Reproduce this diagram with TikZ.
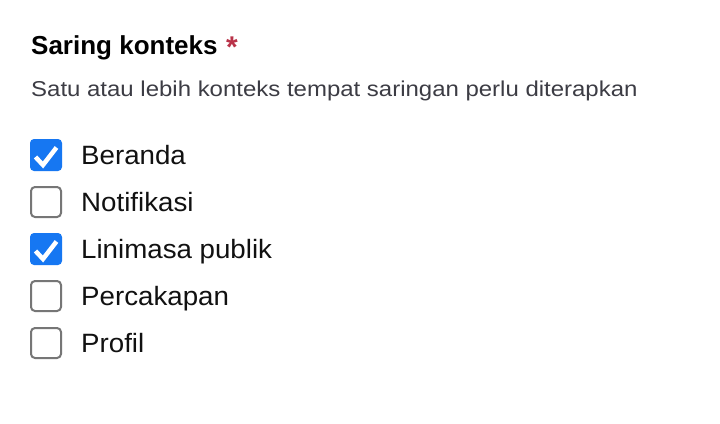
\documentclass[tikz,border=0pt]{standalone}
\usepackage{fontspec}
\setmainfont{Liberation Sans}
\newfontfamily\subfont[FakeStretch=1.115]{Liberation Sans}
\newfontfamily\itemfont[FakeStretch=1.045]{Liberation Sans}
\definecolor{chkblue}{HTML}{1677F2}
\definecolor{boxgray}{HTML}{767676}
\definecolor{reqred}{HTML}{B93349}
\definecolor{subgray}{HTML}{3C3C44}
\definecolor{txtblack}{HTML}{111111}
\tikzset{
  titletext/.style={anchor=base west, inner sep=0pt, text=black, font=\fontsize{26}{30}\selectfont\bfseries},
  subtext/.style={anchor=base west, inner sep=0pt, text=subgray, font=\subfont\fontsize{21.5}{25}\selectfont},
  itemtext/.style={anchor=base west, inner sep=0pt, text=txtblack, font=\itemfont\fontsize{26.5}{31}\selectfont},
  boxon/.style={fill=chkblue, rounded corners=4pt, minimum size=32pt, inner sep=0pt, draw=none},
  boxoff/.style={draw=boxgray, line width=2pt, fill=white, rounded corners=4pt, minimum size=30pt, inner sep=0pt},
  tick/.style={draw=white, line width=4.5pt, line join=miter}
}
\begin{document}
\begin{tikzpicture}[x=1pt,y=-1pt]
\useasboundingbox (0,0) rectangle (720,423);
\fill[white] (0,0) rectangle (720,423);
\node[titletext] (title) at (31,54) {Saring konteks};
\node[anchor=base west, inner sep=0pt, text=reqred, font=\fontsize{30}{30}\selectfont\bfseries] (req) at (226,57) {*};
\node[subtext] (sub) at (31,96) {Satu atau lebih konteks tempat saringan perlu diterapkan};
% rows
\node[boxon] (b1) at (46,155) {};
\draw[tick] ([shift={(-10.5,2)}]b1.center) -- ([shift={(-3,10)}]b1.center) -- ([shift={(10.5,-7.5)}]b1.center);
\node[itemtext] (t1) at (81,164) {Beranda};
\node[boxoff] (b2) at (46,202) {};
\node[itemtext] (t2) at (81,211) {Notifikasi};
\node[boxon] (b3) at (46,249) {};
\draw[tick] ([shift={(-10.5,2)}]b3.center) -- ([shift={(-3,10)}]b3.center) -- ([shift={(10.5,-7.5)}]b3.center);
\node[itemtext] (t3) at (81,258) {Linimasa publik};
\node[boxoff] (b4) at (46,296) {};
\node[itemtext] (t4) at (81,305) {Percakapan};
\node[boxoff] (b5) at (46,343) {};
\node[itemtext] (t5) at (81,352) {Profil};
\end{tikzpicture}
\end{document}
